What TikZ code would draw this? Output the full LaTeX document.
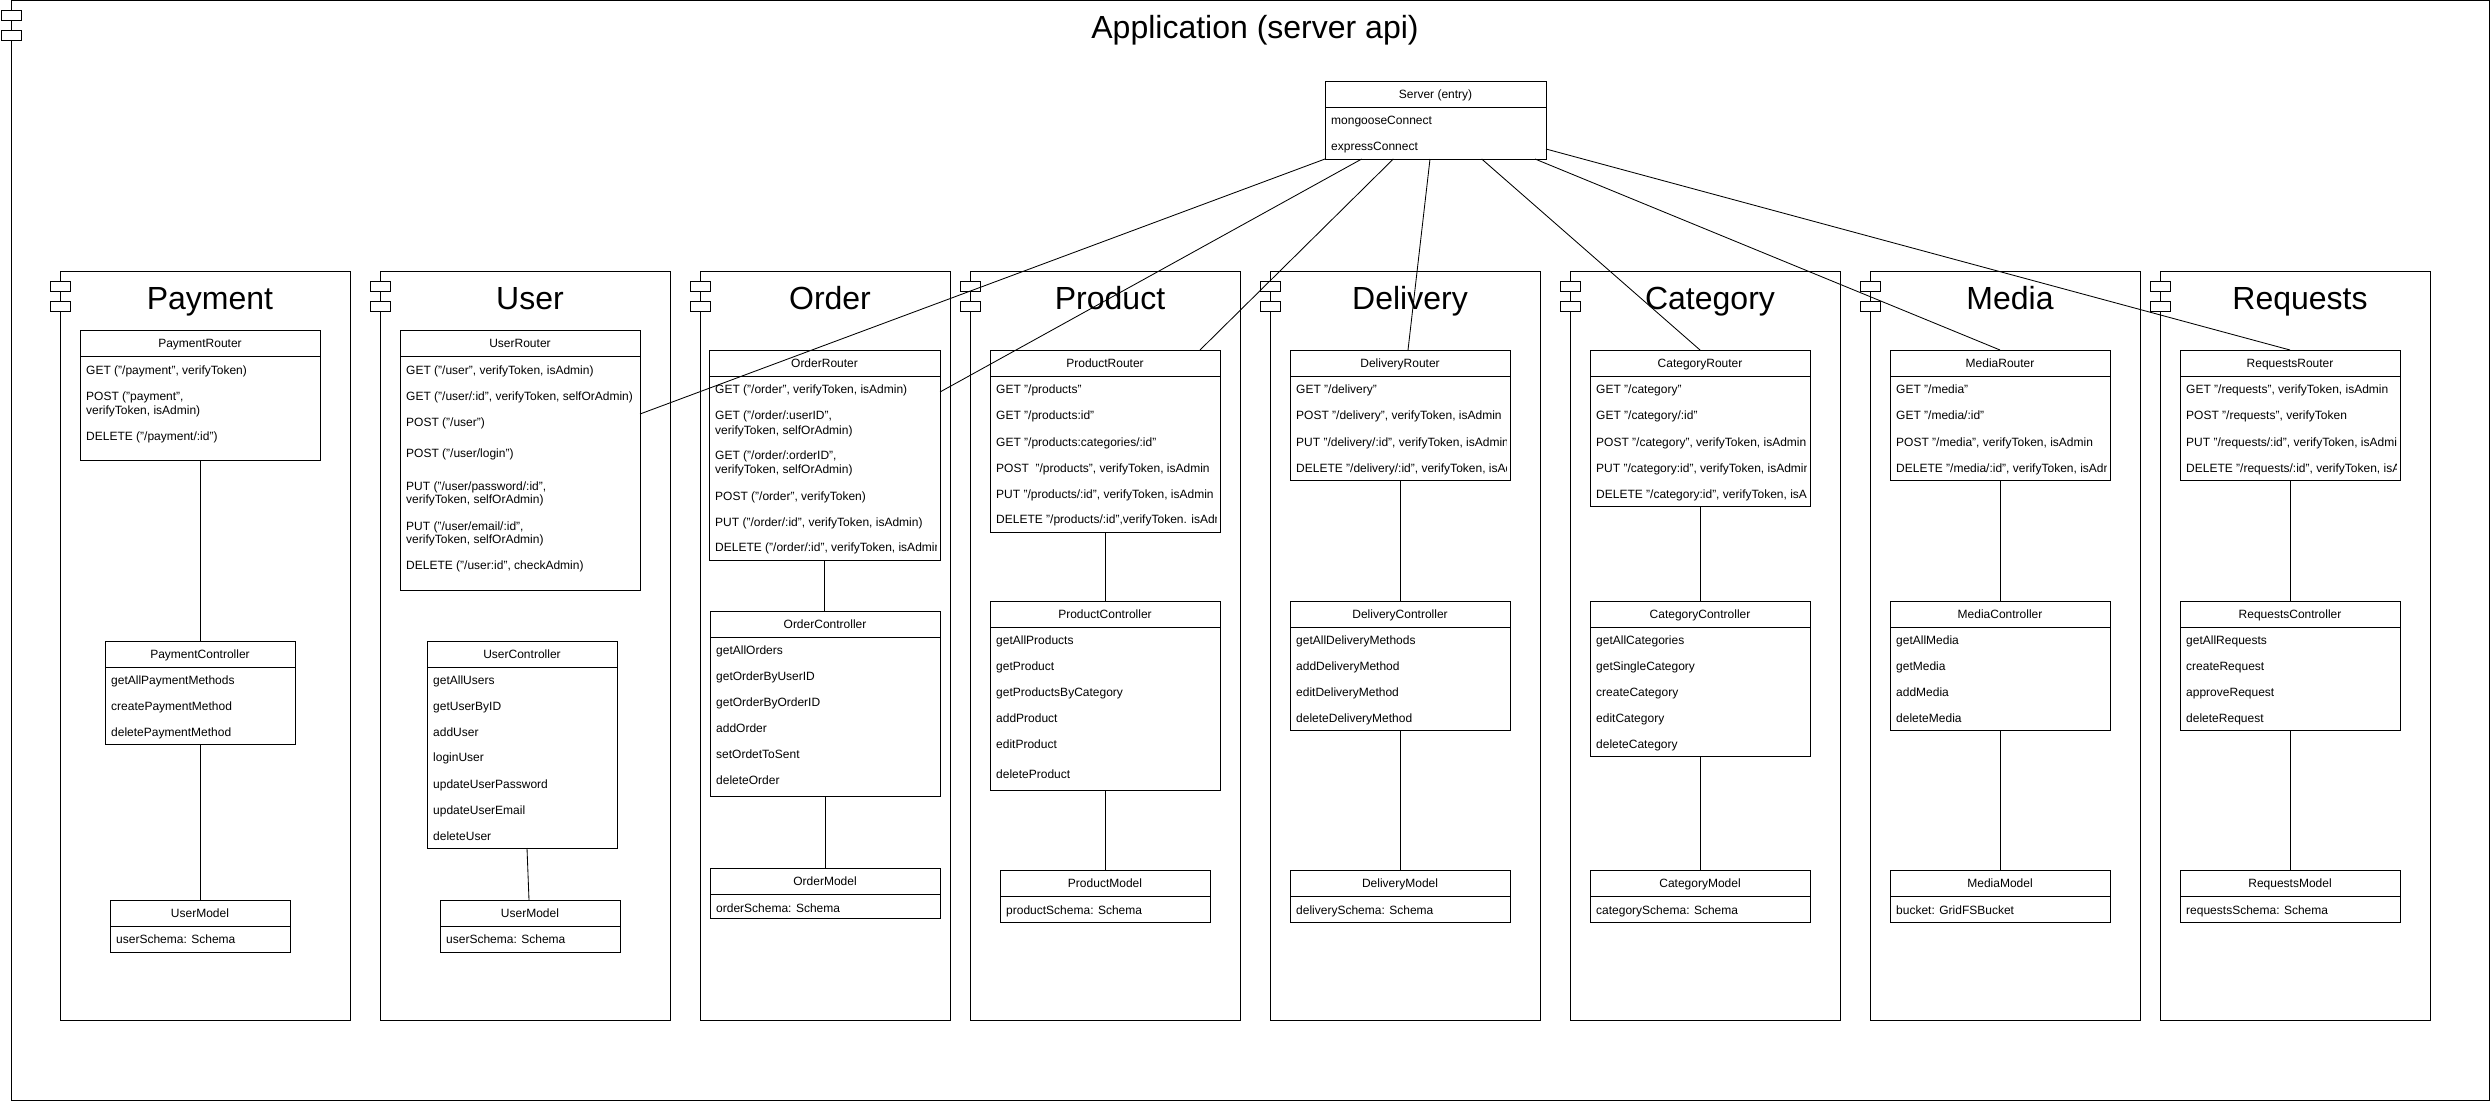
\documentclass[tikz,border=0pt]{standalone}
\usepackage{fontspec}
\setmainfont{Liberation Sans}
\tikzset{
  compframe/.style={draw, line width=1pt, inner sep=0pt, outer sep=0pt},
  ubx/.style={draw, line width=1pt, inner sep=0pt, outer sep=0pt},
  ht/.style={font=\fontsize{12}{14}\selectfont, inner sep=0pt, text height=8.6pt, text depth=0pt},
  rowt/.style={font=\fontsize{12}{14}\selectfont, anchor=west, inner sep=0pt, text height=8.6pt, text depth=0pt},
  bigt/.style={font=\fontsize{32}{38}\selectfont, inner sep=0pt, text height=22.9pt, text depth=0pt},
  icon/.style={draw, line width=1pt, fill=white},
  conn/.style={draw, line width=0.85pt},
}
% component frame: name, x1, y1, x2, y2, title
\newcommand\comp[6]{%
  \node[compframe, minimum width={(#4)-(#2)}, minimum height={(#5)-(#3)}] (#1) at ({((#2)+(#4))/2},{((#3)+(#5))/2}) {};
  \draw[icon] (#2-10,#3+10) rectangle (#2+10,#3+20);
  \draw[icon] (#2-10,#3+30) rectangle (#2+10,#3+40);
  \node[bigt] (#1t) at ({((#2)+(#4))/2+5},#3+27) {#6};
}
% class box: name, x1, y1, x2, y2, title
\newcommand\ubox[6]{%
  \node[ubx, fill=white, minimum width={(#4)-(#2)}, minimum height={(#5)-(#3)}] (#1) at ({((#2)+(#4))/2},{((#3)+(#5))/2}) {};
  \draw[line width=1pt] ([yshift=-26pt]#1.north west) -- ([yshift=-26pt]#1.north east);
  \node[ht] (#1h) at ({((#2)+(#4))/2},#3+13) {#6};
}
\newcommand\rowtxt[3]{\node[rowt] at (#1,#2) {#3};}
\begin{document}
\begin{tikzpicture}[x=1pt,y=-1pt]
\useasboundingbox (0,0) rectangle (2491,1101);
% outer frame
\node[compframe, minimum width=2478.5, minimum height=1099.4] (app) at (1250.25,550.3) {};
\draw[icon] (1,10) rectangle (21,20);
\draw[icon] (1,30) rectangle (21,40);
\node[bigt] (appt) at (1255,27) {Application (server api)};

% components
\comp{cpay}{60}{271}{350}{1020}{Payment}
\comp{cuser}{380}{271}{670}{1020}{User}
\comp{corder}{700}{271}{950}{1020}{Order}
\comp{cprod}{970}{271}{1240}{1020}{Product}
\comp{cdel}{1270}{271}{1540}{1020}{Delivery}
\comp{ccat}{1570}{271}{1840}{1020}{Category}
\comp{cmed}{1870}{271}{2140}{1020}{Media}
\comp{creq}{2160}{271}{2430}{1020}{Requests}

% server
\ubox{srv}{1325}{81}{1546}{159}{Server (entry)}
\rowtxt{1331}{120}{mongooseConnect}
\rowtxt{1331}{146}{expressConnect}

% ---------- Payment
\ubox{payr}{80}{330}{320}{460}{PaymentRouter}
\rowtxt{86}{370}{GET ("/payment", verifyToken)}
\rowtxt{86}{396}{POST ("payment",}
\rowtxt{86}{410}{verifyToken, isAdmin)}
\rowtxt{86}{436}{DELETE ("/payment/:id")}
\ubox{payc}{105}{641}{295}{744}{PaymentController}
\rowtxt{111}{680}{getAllPaymentMethods}
\rowtxt{111}{706}{createPaymentMethod}
\rowtxt{111}{732}{deletePaymentMethod}
\ubox{paym}{110}{900}{290}{952}{UserModel}
\rowtxt{116}{939}{userSchema: Schema}

% ---------- User
\ubox{usr}{400}{330}{640}{590}{UserRouter}
\rowtxt{406}{370}{GET ("/user", verifyToken, isAdmin)}
\rowtxt{406}{396}{GET ("/user/:id", verifyToken, selfOrAdmin)}
\rowtxt{406}{422}{POST ("/user")}
\rowtxt{406}{453}{POST ("/user/login")}
\rowtxt{406}{486}{PUT ("/user/password/:id",}
\rowtxt{406}{499}{verifyToken, selfOrAdmin)}
\rowtxt{406}{526}{PUT ("/user/email/:id",}
\rowtxt{406}{539}{verifyToken, selfOrAdmin)}
\rowtxt{406}{565}{DELETE ("/user:id", checkAdmin)}
\ubox{usc}{427}{641}{617}{848}{UserController}
\rowtxt{433}{680}{getAllUsers}
\rowtxt{433}{706}{getUserByID}
\rowtxt{433}{732}{addUser}
\rowtxt{433}{757}{loginUser}
\rowtxt{433}{784}{updateUserPassword}
\rowtxt{433}{810}{updateUserEmail}
\rowtxt{433}{836}{deleteUser}
\ubox{usm}{440}{900}{620}{952}{UserModel}
\rowtxt{446}{939}{userSchema: Schema}

% ---------- Order
\ubox{ordr}{709}{350}{940}{560}{OrderRouter}
\begin{scope}
\clip (709,377) rectangle (936,560);
\rowtxt{715}{389}{GET ("/order", verifyToken, isAdmin)}
\rowtxt{715}{415}{GET ("/order/:userID",}
\rowtxt{715}{430}{verifyToken, selfOrAdmin)}
\rowtxt{715}{455}{GET ("/order/:orderID",}
\rowtxt{715}{469}{verifyToken, selfOrAdmin)}
\rowtxt{715}{496}{POST ("/order", verifyToken)}
\rowtxt{715}{522}{PUT ("/order/:id", verifyToken, isAdmin)}
\rowtxt{715}{547}{DELETE ("/order/:id", verifyToken, isAdmin)}
\end{scope}
\ubox{ordc}{710}{611}{940}{796}{OrderController}
\rowtxt{716}{650}{getAllOrders}
\rowtxt{716}{676}{getOrderByUserID}
\rowtxt{716}{702}{getOrderByOrderID}
\rowtxt{716}{728}{addOrder}
\rowtxt{716}{754}{setOrdetToSent}
\rowtxt{716}{780}{deleteOrder}
\ubox{ordm}{710}{868}{940}{918}{OrderModel}
\rowtxt{716}{908}{orderSchema: Schema}

% ---------- Product
\ubox{prr}{990}{350}{1220}{532}{ProductRouter}
\begin{scope}
\clip (990,377) rectangle (1216,532);
\rowtxt{996}{389}{GET "/products"}
\rowtxt{996}{415}{GET "/products:id"}
\rowtxt{996}{442}{GET "/products:categories/:id"}
\rowtxt{996}{468}{POST\ \ "/products", verifyToken, isAdmin}
\rowtxt{996}{494}{PUT "/products/:id", verifyToken, isAdmin}
\rowtxt{996}{519}{DELETE "/products/:id",verifyToken. isAdmin}
\end{scope}
\ubox{prc}{990}{601}{1220}{790}{ProductController}
\rowtxt{996}{640}{getAllProducts}
\rowtxt{996}{666}{getProduct}
\rowtxt{996}{692}{getProductsByCategory}
\rowtxt{996}{718}{addProduct}
\rowtxt{996}{744}{editProduct}
\rowtxt{996}{774}{deleteProduct}
\ubox{prm}{1000}{870}{1210}{922}{ProductModel}
\rowtxt{1006}{910}{productSchema: Schema}

% ---------- Delivery
\ubox{delr}{1290}{350}{1510}{480}{DeliveryRouter}
\begin{scope}
\clip (1290,377) rectangle (1506,480);
\rowtxt{1296}{389}{GET "/delivery"}
\rowtxt{1296}{415}{POST "/delivery", verifyToken, isAdmin}
\rowtxt{1296}{442}{PUT "/delivery/:id", verifyToken, isAdmin}
\rowtxt{1296}{468}{DELETE "/delivery/:id", verifyToken, isAdmin}
\end{scope}
\ubox{delc}{1290}{601}{1510}{730}{DeliveryController}
\rowtxt{1296}{640}{getAllDeliveryMethods}
\rowtxt{1296}{666}{addDeliveryMethod}
\rowtxt{1296}{692}{editDeliveryMethod}
\rowtxt{1296}{718}{deleteDeliveryMethod}
\ubox{delm}{1290}{870}{1510}{922}{DeliveryModel}
\rowtxt{1296}{910}{deliverySchema: Schema}

% ---------- Category
\ubox{catr}{1590}{350}{1810}{506}{CategoryRouter}
\begin{scope}
\clip (1590,377) rectangle (1806,506);
\rowtxt{1596}{389}{GET "/category"}
\rowtxt{1596}{415}{GET "/category/:id"}
\rowtxt{1596}{442}{POST "/category", verifyToken, isAdmin}
\rowtxt{1596}{468}{PUT "/category:id", verifyToken, isAdmin}
\rowtxt{1596}{494}{DELETE "/category:id", verifyToken, isAdmin}
\end{scope}
\ubox{catc}{1590}{601}{1810}{756}{CategoryController}
\rowtxt{1596}{640}{getAllCategories}
\rowtxt{1596}{666}{getSingleCategory}
\rowtxt{1596}{692}{createCategory}
\rowtxt{1596}{718}{editCategory}
\rowtxt{1596}{744}{deleteCategory}
\ubox{catm}{1590}{870}{1810}{922}{CategoryModel}
\rowtxt{1596}{910}{categorySchema: Schema}

% ---------- Media
\ubox{medr}{1890}{350}{2110}{480}{MediaRouter}
\begin{scope}
\clip (1890,377) rectangle (2106,480);
\rowtxt{1896}{389}{GET "/media"}
\rowtxt{1896}{415}{GET "/media/:id"}
\rowtxt{1896}{442}{POST "/media", verifyToken, isAdmin}
\rowtxt{1896}{468}{DELETE "/media/:id", verifyToken, isAdmin}
\end{scope}
\ubox{medc}{1890}{601}{2110}{730}{MediaController}
\rowtxt{1896}{640}{getAllMedia}
\rowtxt{1896}{666}{getMedia}
\rowtxt{1896}{692}{addMedia}
\rowtxt{1896}{718}{deleteMedia}
\ubox{medm}{1890}{870}{2110}{922}{MediaModel}
\rowtxt{1896}{910}{bucket: GridFSBucket}

% ---------- Requests
\ubox{reqr}{2180}{350}{2400}{480}{RequestsRouter}
\begin{scope}
\clip (2180,377) rectangle (2396,480);
\rowtxt{2186}{389}{GET "/requests", verifyToken, isAdmin}
\rowtxt{2186}{415}{POST "/requests", verifyToken}
\rowtxt{2186}{442}{PUT "/requests/:id", verifyToken, isAdmin}
\rowtxt{2186}{468}{DELETE "/requests/:id", verifyToken, isAdmin}
\end{scope}
\ubox{reqc}{2180}{601}{2400}{730}{RequestsController}
\rowtxt{2186}{640}{getAllRequests}
\rowtxt{2186}{666}{createRequest}
\rowtxt{2186}{692}{approveRequest}
\rowtxt{2186}{718}{deleteRequest}
\ubox{reqm}{2180}{870}{2400}{922}{RequestsModel}
\rowtxt{2186}{910}{requestsSchema: Schema}

% ---------- vertical connectors
\draw[conn] (payr.south) -- (payc.north);
\draw[conn] (payc.south) -- (paym.north);
\draw[conn] ([xshift=1pt]usr.south) -- (usr.south -| usc.north);
\draw[conn] ([xshift=5pt]usc.south) -- ([xshift=-1pt]usm.north);
\draw[conn] (ordr.south) -- (ordr.south |- ordc.north);
\draw[conn] (ordc.south) -- (ordm.north);
\draw[conn] (prr.south) -- (prc.north);
\draw[conn] (prc.south) -- (prm.north);
\draw[conn] (delr.south) -- (delc.north);
\draw[conn] (delc.south) -- (delm.north);
\draw[conn] (catr.south) -- (catc.north);
\draw[conn] (catc.south) -- (catm.north);
\draw[conn] (medr.south) -- (medc.north);
\draw[conn] (medc.south) -- (medm.north);
\draw[conn] (reqr.south) -- (reqc.north);
\draw[conn] (reqc.south) -- (reqm.north);

% ---------- server connectors
\draw[conn] (srv.south west) -- ([yshift=-84pt]usr.north east);
\draw[conn] ([xshift=36.7pt]srv.south west) -- ([yshift=-42pt]ordr.north east);
\draw[conn] ([xshift=68.3pt]srv.south west) -- ([xshift=-20pt]prr.north east);
\draw[conn] ([xshift=105pt]srv.south west) -- ([xshift=8pt]delr.north);
\draw[conn] ([xshift=156.7pt]srv.south west) -- (catr.north);
\draw[conn] ([xshift=210pt]srv.south west) -- (medr.north);
\draw[conn] ([yshift=10pt]srv.south east) -- (reqr.north);
\end{tikzpicture}
\end{document}
